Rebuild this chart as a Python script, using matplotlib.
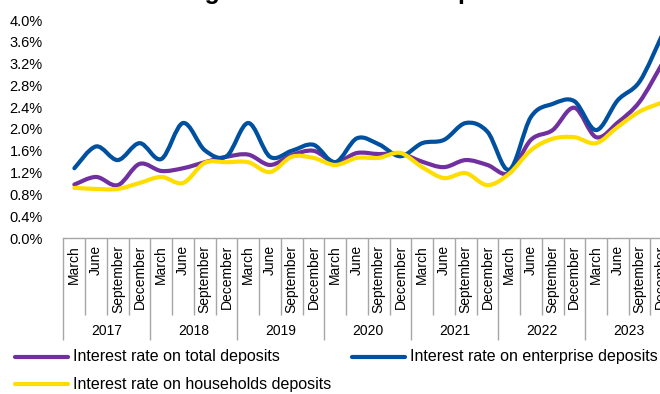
import numpy as np
import matplotlib
matplotlib.use("Agg")
import matplotlib.pyplot as plt
from matplotlib.path import Path
from matplotlib.patches import PathPatch
from matplotlib.lines import Line2D
import matplotlib.transforms as mtransforms

plt.rcParams['font.family'] = ['Liberation Sans', 'DejaVu Sans']

# Quarterly deposit interest rates, % (March, June, September, December of each year)
years = ["2017", "2018", "2019", "2020", "2021", "2022", "2023"]
months = ["March", "June", "September", "December"]

rate_total = [0.98, 1.12, 0.97, 1.36, 1.23, 1.28, 1.39, 1.49,
              1.53, 1.34, 1.52, 1.60, 1.39, 1.56, 1.54, 1.55,
              1.40, 1.30, 1.43, 1.34, 1.19, 1.80, 1.98, 2.39,
              1.85, 2.12, 2.50, 3.17]
rate_enterprise = [1.28, 1.68, 1.43, 1.74, 1.45, 2.11, 1.61, 1.50,
                   2.11, 1.49, 1.60, 1.71, 1.39, 1.83, 1.72, 1.50,
                   1.74, 1.80, 2.11, 1.95, 1.25, 2.22, 2.46, 2.51,
                   1.98, 2.53, 2.87, 3.69]
rate_households = [0.92, 0.90, 0.90, 1.01, 1.12, 1.01, 1.38, 1.39,
                   1.39, 1.21, 1.49, 1.47, 1.34, 1.47, 1.47, 1.56,
                   1.30, 1.10, 1.19, 0.97, 1.18, 1.61, 1.82, 1.85,
                   1.74, 2.04, 2.32, 2.48]

series_names = ["Interest rate on total deposits",
                "Interest rate on enterprise deposits",
                "Interest rate on households deposits"]
series_values = [rate_total, rate_enterprise, rate_households]
series_colors = ["#7030A0", "#0050A0", "#FFDD00"]

y_ticks = [0.0, 0.4, 0.8, 1.2, 1.6, 2.0, 2.4, 2.8, 3.2, 3.6, 4.0]

W, H = 660, 394
fig = plt.figure(figsize=(W / 100, H / 100), dpi=100)
ax = fig.add_axes([63.5 / W, (H - 238) / H, 608.7 / W, 218 / H])


def smooth_path(xs, ys):
    """Cubic Bezier path through the points (Catmull-Rom style smoothing)."""
    pts = np.column_stack([xs, ys]).astype(float)
    n = len(pts)
    verts = [pts[0]]
    codes = [Path.MOVETO]
    for i in range(n - 1):
        p0 = pts[i - 1] if i > 0 else pts[i]
        p1, p2 = pts[i], pts[i + 1]
        p3 = pts[i + 2] if i + 2 < n else pts[i + 1]
        c1 = p1 + (p2 - p0) / 6.0
        c2 = p2 - (p3 - p1) / 6.0
        verts += [c1, c2, p2]
        codes += [Path.CURVE4] * 3
    return Path(verts, codes)


n_q = len(years) * len(months)
xq = np.arange(n_q)
for vals, col in zip(series_values, series_colors):
    patch = PathPatch(smooth_path(xq, vals), fill=False, edgecolor=col,
                      lw=3.0, capstyle='round', joinstyle='round', zorder=3)
    ax.add_patch(patch)

ax.set_xlim(-0.5, n_q - 0.5)
ax.set_ylim(0, 4.0)
ax.set_yticks(y_ticks)
ax.set_yticklabels([f"{t:.1f}%" for t in y_ticks], fontsize=10.5)
ax.tick_params(axis='y', length=0, pad=15)
ax.set_xticks([])
for s in ['left', 'right', 'top']:
    ax.spines[s].set_visible(False)
ax.spines['bottom'].set_color('#A6A6A6')
ax.spines['bottom'].set_linewidth(1.0)

# Two-level category axis: quarter separators and year separators
trans = mtransforms.blended_transform_factory(ax.transData, ax.transAxes)
month_bottom = (238 - 315) / 218
year_bottom = (238 - 340) / 218
for b in range(n_q + 1):
    xb = b - 0.5
    yb = year_bottom if b % 4 == 0 else month_bottom
    ax.plot([xb, xb], [0, yb], transform=trans, color='#A6A6A6',
            lw=1.0, clip_on=False, solid_capstyle='butt')

month_top = (238 - 245) / 218
for i in range(n_q):
    ax.text(i, month_top, months[i % 4], transform=trans, rotation=90,
            ha='center', va='top', fontsize=10)

year_y = (238 - 331) / 218
for k, yr in enumerate(years):
    ax.text(4 * k + 1.5, year_y, yr, transform=trans, ha='center',
            va='center', fontsize=10)

# Legend
legend_pos = [(15, 357), (352, 357), (15, 384)]
for (lx, ly), name, col in zip(legend_pos, series_names, series_colors):
    fig.add_artist(Line2D([lx / W, (lx + 53) / W], [1 - ly / H, 1 - ly / H],
                          color=col, lw=3.0, solid_capstyle='round'))
    fig.text((lx + 58) / W, 1 - ly / H, name, ha='left', va='center',
             fontsize=11.5)

# Chart title (sits at the very top edge of the canvas)
fig.text(0.506, 1 + 0.5 / H, "Average interest rate on deposits", ha='center',
         va='baseline', fontsize=18, fontweight='bold')

fig.savefig("out.png", dpi=100)
